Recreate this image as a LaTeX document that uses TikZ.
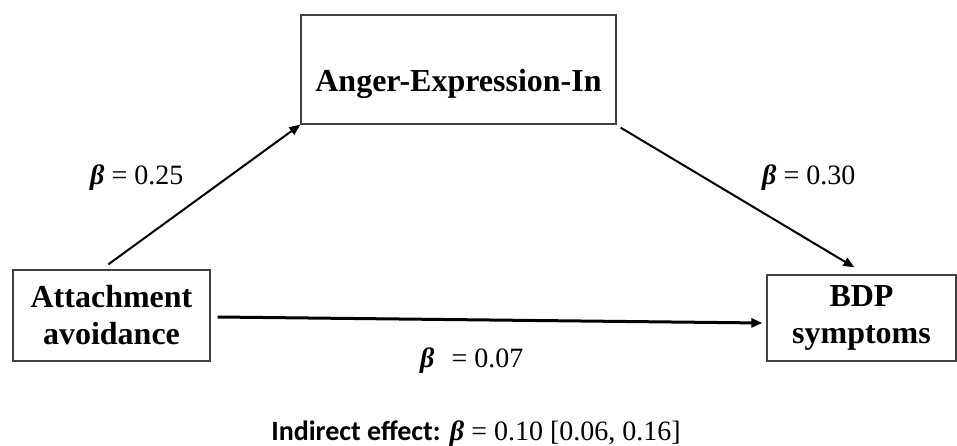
\documentclass[tikz,border=0pt]{standalone}
\usepackage{fontspec}
\setmainfont{Liberation Serif}
\newfontfamily\calibrifont{Carlito}
\usetikzlibrary{arrows.meta, positioning}
\definecolor{boxgray}{HTML}{404040}
\newcommand{\bbeta}{{\bfseries\itshape β}}

\begin{document}
\begin{tikzpicture}[x=1pt, y=-1pt,
  box/.style={rectangle, draw=boxgray, line width=1.3pt, inner sep=0pt, font=\fontsize{32}{37}\selectfont\bfseries, align=center},
  coef/.style={anchor=base west, inner sep=0pt, font=\fontsize{28}{33}\selectfont},
  arrow/.style={-{Triangle[length=11pt, width=9pt]}, line width=2pt}]
\useasboundingbox (0,0) rectangle (957,446);

\node[box, minimum width=315pt, text height=77pt, text depth=32pt] (anger) at (458.5,69.5) {Anger-Expression-In};
\node[box, minimum width=197pt, minimum height=91pt] (attach) at (111.5,315.5) {Attachment\\avoidance};
\node[box, minimum width=189pt, minimum height=86pt] (bdp) at (861.5,318) {BDP\\symptoms};

\draw[arrow] ([xshift=96pt, yshift=5pt]attach.north west) -- (anger.south west);
\draw[arrow] ([xshift=4pt, yshift=-3pt]anger.south east) -- ([xshift=88pt, yshift=7pt]bdp.north west);
\draw[arrow, line width=3pt] ([xshift=7pt, yshift=-1.5pt]attach.east) -- ([xshift=-4pt, yshift=-5pt]bdp.west);

\node[coef] (b1) at (90,185) {\bbeta{} = 0.25};
\node[coef] (b2) at (762,185) {\bbeta{} = 0.30};
\node[coef] (b3) at (420,367) {\bbeta\hspace{17pt}= 0.07};

\node[anchor=base, inner sep=0pt, font=\fontsize{28}{34}\selectfont] (indirect) at (476,440) {{\calibrifont\bfseries Indirect effect:} \bbeta{} = 0.10 [0.06, 0.16]};
\end{tikzpicture}
\end{document}
